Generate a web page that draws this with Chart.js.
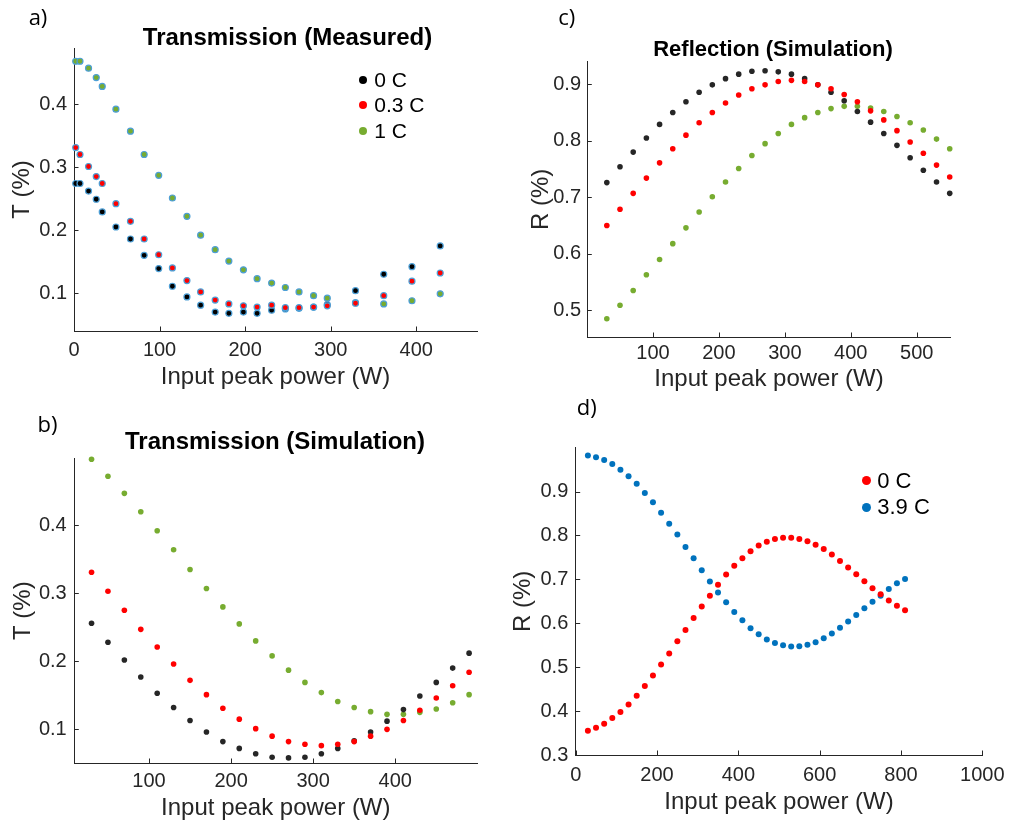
<!DOCTYPE html>
<html>
<head>
<meta charset="utf-8">
<script src="https://cdn.jsdelivr.net/npm/chart.js@4.4.0/dist/chart.umd.min.js"></script>
<style>
  body { margin: 0; background: #fff; width: 1009px; height: 827px; position: relative; overflow: hidden;
         font-family: "Liberation Sans", Arial, sans-serif; }
  canvas { position: absolute; }
  .txt { position: absolute; transform: translate(-50%, -50%); white-space: nowrap; color: #000; }
  .letter { font-family: "Open Sans", "Noto Sans", sans-serif; font-size: 22px; }
  .title { font-weight: bold; }
  .legend { position: absolute; color: #000; }
  .legend .row { display: flex; align-items: center; }
  .legend .dot { display: inline-block; border-radius: 50%; }
</style>
</head>
<body>
<script>
// a) Transmission (Measured)
const aPower = [2, 7, 17, 26, 33, 49, 66, 82, 99, 115, 132, 148, 165, 181, 198, 214, 231, 247, 263, 280, 296, 329, 362, 395, 428];
const a0C  = [0.274, 0.274, 0.262, 0.249, 0.229, 0.205, 0.186, 0.160, 0.139, 0.111, 0.094, 0.081, 0.070, 0.068, 0.070, 0.068, 0.073, 0.075, 0.076, 0.078, 0.082, 0.104, 0.130, 0.142, 0.175];
const a03C = [0.331, 0.320, 0.301, 0.285, 0.274, 0.242, 0.214, 0.186, 0.161, 0.140, 0.120, 0.102, 0.089, 0.083, 0.080, 0.078, 0.081, 0.077, 0.077, 0.078, 0.080, 0.084, 0.096, 0.119, 0.132];
const a1C  = [0.468, 0.468, 0.457, 0.442, 0.428, 0.392, 0.357, 0.320, 0.287, 0.251, 0.222, 0.192, 0.169, 0.151, 0.137, 0.123, 0.116, 0.109, 0.102, 0.096, 0.092, 0.085, 0.083, 0.088, 0.099];
const aXTicks = [0, 100, 200, 300, 400];
const aYTicks = [0.1, 0.2, 0.3, 0.4];

// b) Transmission (Simulation)
const bPower = [30, 50, 70, 90, 110, 130, 150, 170, 190, 210, 230, 250, 270, 290, 310, 330, 350, 370, 390, 410, 430, 450, 470, 490];
const b0C  = [0.256, 0.228, 0.202, 0.177, 0.153, 0.132, 0.113, 0.096, 0.082, 0.072, 0.064, 0.059, 0.058, 0.059, 0.064, 0.072, 0.083, 0.096, 0.112, 0.129, 0.149, 0.169, 0.190, 0.212];
const b03C = [0.331, 0.303, 0.275, 0.247, 0.221, 0.196, 0.172, 0.151, 0.131, 0.115, 0.101, 0.090, 0.082, 0.078, 0.076, 0.078, 0.082, 0.090, 0.100, 0.113, 0.128, 0.146, 0.164, 0.184];
const b1C  = [0.497, 0.472, 0.447, 0.420, 0.392, 0.364, 0.335, 0.307, 0.280, 0.255, 0.230, 0.208, 0.187, 0.169, 0.154, 0.141, 0.132, 0.126, 0.122, 0.122, 0.125, 0.130, 0.139, 0.151];
const bXTicks = [100, 200, 300, 400];
const bYTicks = [0.1, 0.2, 0.3, 0.4];

// c) Reflection (Simulation)
const cPower = [30, 50, 70, 90, 110, 130, 150, 170, 190, 210, 230, 250, 270, 290, 310, 330, 350, 370, 390, 410, 430, 450, 470, 490, 510, 530, 550];
const c0C  = [0.726, 0.754, 0.780, 0.805, 0.829, 0.850, 0.869, 0.886, 0.899, 0.910, 0.918, 0.923, 0.924, 0.922, 0.918, 0.910, 0.899, 0.886, 0.871, 0.852, 0.833, 0.813, 0.792, 0.770, 0.748, 0.727, 0.707];
const c03C = [0.650, 0.679, 0.707, 0.734, 0.761, 0.786, 0.810, 0.832, 0.850, 0.867, 0.881, 0.892, 0.899, 0.905, 0.907, 0.905, 0.899, 0.892, 0.882, 0.869, 0.853, 0.837, 0.818, 0.798, 0.778, 0.757, 0.736];
const c1C  = [0.485, 0.509, 0.535, 0.563, 0.590, 0.618, 0.646, 0.674, 0.701, 0.727, 0.751, 0.774, 0.795, 0.813, 0.829, 0.841, 0.850, 0.857, 0.861, 0.861, 0.858, 0.852, 0.843, 0.832, 0.819, 0.803, 0.786];
const cXTicks = [100, 200, 300, 400, 500];
const cYTicks = [0.5, 0.6, 0.7, 0.8, 0.9];

// d) reflection, two temperatures
const dPower = [30, 50, 70, 90, 110, 130, 150, 170, 190, 210, 230, 250, 270, 290, 310, 330, 350, 370, 390, 410,
                430, 450, 470, 490, 510, 530, 550, 570, 590, 610, 630, 650, 670, 690, 710, 730, 750, 770, 790, 810];
const d0C  = [0.355, 0.362, 0.371, 0.384, 0.398, 0.415, 0.435, 0.457, 0.481, 0.506, 0.531, 0.559, 0.585, 0.612, 0.638, 0.663, 0.688, 0.711, 0.731, 0.748,
              0.764, 0.777, 0.786, 0.792, 0.795, 0.795, 0.792, 0.787, 0.779, 0.769, 0.757, 0.742, 0.727, 0.712, 0.696, 0.680, 0.666, 0.652, 0.640, 0.630];
const d39C = [0.982, 0.978, 0.972, 0.963, 0.950, 0.935, 0.918, 0.897, 0.876, 0.852, 0.827, 0.802, 0.774, 0.748, 0.721, 0.695, 0.670, 0.648, 0.626, 0.607,
              0.589, 0.575, 0.563, 0.555, 0.550, 0.547, 0.548, 0.551, 0.557, 0.566, 0.577, 0.590, 0.604, 0.619, 0.634, 0.649, 0.663, 0.678, 0.691, 0.701];
const dXTicks = [0, 200, 400, 600, 800, 1000];
const dYTicks = [0.3, 0.4, 0.5, 0.6, 0.7, 0.8, 0.9];

const xLabel = 'Input peak power (W)';
const FONT = '"Liberation Sans", Arial, sans-serif';
const AXIS = '#262626';
const RED = '#ff0000', GREEN = '#77ac30', BLUE = '#0072bd';

// kleine Ticks nach innen, wie in MATLAB
const inwardTicks = {
    id: 'inwardTicks',
    afterDraw(chart) {
        const { ctx, chartArea, scales } = chart;
        ctx.save();
        ctx.strokeStyle = AXIS;
        ctx.lineWidth = 1;
        scales.x.ticks.forEach(t => {
            const px = Math.round(scales.x.getPixelForValue(t.value)) + 0.5;
            ctx.beginPath();
            ctx.moveTo(px, chartArea.bottom);
            ctx.lineTo(px, chartArea.bottom - 4.5);
            ctx.stroke();
        });
        scales.y.ticks.forEach(t => {
            const py = Math.round(scales.y.getPixelForValue(t.value)) + 0.5;
            ctx.beginPath();
            ctx.moveTo(chartArea.left, py);
            ctx.lineTo(chartArea.left + 4.5, py);
            ctx.stroke();
        });
        ctx.restore();
    }
};

function axisOptions(range, ticks, title, tickPad, titlePad, fit) {
    return {
        type: 'linear',
        bounds: 'data',
        min: range[0],
        max: range[1],
        grid: { display: false, drawTicks: false },
        border: { display: true, color: AXIS, width: 1 },
        afterBuildTicks: scale => { scale.ticks = ticks.map(v => ({ value: v })); },
        ticks: {
            color: AXIS, padding: tickPad, autoSkip: false, maxRotation: 0,
            font: { family: FONT, size: 20 },
            callback: v => String(v)
        },
        title: {
            display: true, text: title, color: AXIS,
            font: { family: FONT, size: 24 },
            padding: titlePad
        },
        afterFit: fit
    };
}

function addText(cls, text, x, y, size) {
    const el = document.createElement('div');
    el.className = 'txt ' + cls;
    el.textContent = text;
    el.style.left = x + 'px';
    el.style.top = y + 'px';
    if (size) el.style.fontSize = size + 'px';
    document.body.appendChild(el);
}

function addLegend(series, lg) {
    const box = document.createElement('div');
    box.className = 'legend';
    box.style.left = (lg.x - lg.dot / 2) + 'px';
    box.style.top = (lg.y - lg.row / 2) + 'px';
    box.style.fontSize = lg.size + 'px';
    series.forEach(s => {
        const row = document.createElement('div');
        row.className = 'row';
        row.style.height = lg.row + 'px';
        const dot = document.createElement('span');
        dot.className = 'dot';
        dot.style.width = dot.style.height = lg.dot + 'px';
        dot.style.background = s.color;
        dot.style.marginRight = lg.gap + 'px';
        const label = document.createElement('span');
        label.textContent = s.label;
        row.appendChild(dot);
        row.appendChild(label);
        box.appendChild(row);
    });
    document.body.appendChild(box);
}

function makePanel(p) {
    const canvas = document.createElement('canvas');
    canvas.width = p.box.w;
    canvas.height = p.box.h;
    canvas.style.left = p.box.x + 'px';
    canvas.style.top = p.box.y + 'px';
    document.body.appendChild(canvas);

    const a = p.area;
    const yWidth = a.L - p.box.x;
    const xHeight = p.box.y + p.box.h - a.B;

    new Chart(canvas, {
        type: 'scatter',
        data: {
            datasets: p.series.map(s => ({
                label: s.label,
                data: p.x.map((x, i) => ({ x: x, y: s.values[i] })),
                backgroundColor: s.color,
                borderColor: p.edge || s.color,
                pointRadius: p.radius,
                pointHoverRadius: p.radius,
                pointBorderWidth: p.edge ? 1.2 : 0,
                order: s.order,
                clip: false
            }))
        },
        options: {
            responsive: false,
            animation: false,
            events: [],
            layout: { padding: { left: 0, top: a.T - p.box.y, right: p.box.x + p.box.w - a.R, bottom: 0 } },
            plugins: { legend: { display: false }, tooltip: { enabled: false } },
            scales: {
                x: axisOptions(p.xRange, p.xTicks, xLabel, p.xTickPad, { top: 0, bottom: p.xTitlePad },
                    s => { s.height = xHeight; s.paddingLeft = 0; s.paddingRight = 0; }),
                y: axisOptions(p.yRange, p.yTicks, p.yLabel, p.yTickPad, { top: p.yTitlePad, bottom: 0 },
                    s => { s.width = yWidth; s.paddingTop = 0; s.paddingBottom = 0; })
            }
        },
        plugins: [inwardTicks]
    });

    if (p.title) addText('title', p.title.text, p.title.x, p.title.y, p.title.size);
    addText('letter', p.letter.text, p.letter.x, p.letter.y);
    if (p.legend) addLegend(p.series, p.legend);
}

// a)
makePanel({
    box: { x: 0, y: 20, w: 490, h: 380 },
    area: { L: 74, T: 48, R: 477, B: 331 },
    x: aPower,
    series: [
        { label: '0 C', values: a0C, color: '#000000', order: 2 },
        { label: '0.3 C', values: a03C, color: RED, order: 1 },
        { label: '1 C', values: a1C, color: GREEN, order: 3 }
    ],
    edge: '#4d9fd6', radius: 3,
    xRange: [0, 471], yRange: [0.04, 0.489],
    xTicks: aXTicks, yTicks: aYTicks, yLabel: 'T (%)',
    xTickPad: 7, xTitlePad: 8.6, yTickPad: 7, yTitlePad: 8,
    title: { text: 'Transmission (Measured)', x: 287.5, y: 37, size: 24 },
    letter: { text: 'a)', x: 38, y: 16 },
    legend: { x: 363.3, y: 80, row: 25.3, dot: 8, gap: 7, size: 21 }
});

// b)
makePanel({
    box: { x: 0, y: 430, w: 490, h: 397 },
    area: { L: 74.3, T: 458.3, R: 477.3, B: 763 },
    x: bPower,
    series: [
        { label: '0 C', values: b0C, color: AXIS, order: 2 },
        { label: '0.3 C', values: b03C, color: RED, order: 1 },
        { label: '1 C', values: b1C, color: GREEN, order: 3 }
    ],
    radius: 2.8,
    xRange: [9, 500], yRange: [0.0505, 0.4985],
    xTicks: bXTicks, yTicks: bYTicks, yLabel: 'T (%)',
    xTickPad: 6.7, xTitlePad: 4.6, yTickPad: 7.6, yTitlePad: 8.6,
    title: { text: 'Transmission (Simulation)', x: 275, y: 441, size: 24 },
    letter: { text: 'b)', x: 47.5, y: 422.5 }
});

// c)
makePanel({
    box: { x: 500, y: 30, w: 465, h: 370 },
    area: { L: 587.3, T: 61.7, R: 950.7, B: 337 },
    x: cPower,
    series: [
        { label: '0 C', values: c0C, color: AXIS, order: 2 },
        { label: '0.3 C', values: c03C, color: RED, order: 1 },
        { label: '1 C', values: c1C, color: GREEN, order: 3 }
    ],
    radius: 2.8,
    xRange: [0.4, 551.5], yRange: [0.4528, 0.94],
    xTicks: cXTicks, yTicks: cYTicks, yLabel: 'R (%)',
    xTickPad: 4.7, xTitlePad: 6.6, yTickPad: 6.3, yTitlePad: 27.3,
    title: { text: 'Reflection (Simulation)', x: 773, y: 48.5, size: 22 },
    letter: { text: 'c)', x: 566.7, y: 16 }
});

// d)
makePanel({
    box: { x: 500, y: 420, w: 509, h: 407 },
    area: { L: 575.7, T: 447.7, R: 982.3, B: 755 },
    x: dPower,
    series: [
        { label: '0 C', values: d0C, color: RED, order: 1 },
        { label: '3.9 C', values: d39C, color: BLUE, order: 2 }
    ],
    radius: 3,
    xRange: [0, 1000], yRange: [0.3, 1.0],
    xTicks: dXTicks, yTicks: dYTicks, yLabel: 'R (%)',
    xTickPad: 8, xTitlePad: 10, yTickPad: 7.4, yTitlePad: 8.6,
    letter: { text: 'd)', x: 586.7, y: 406 },
    legend: { x: 866.7, y: 481, row: 26.3, dot: 9, gap: 6, size: 22 }
});
</script>
</body>
</html>
